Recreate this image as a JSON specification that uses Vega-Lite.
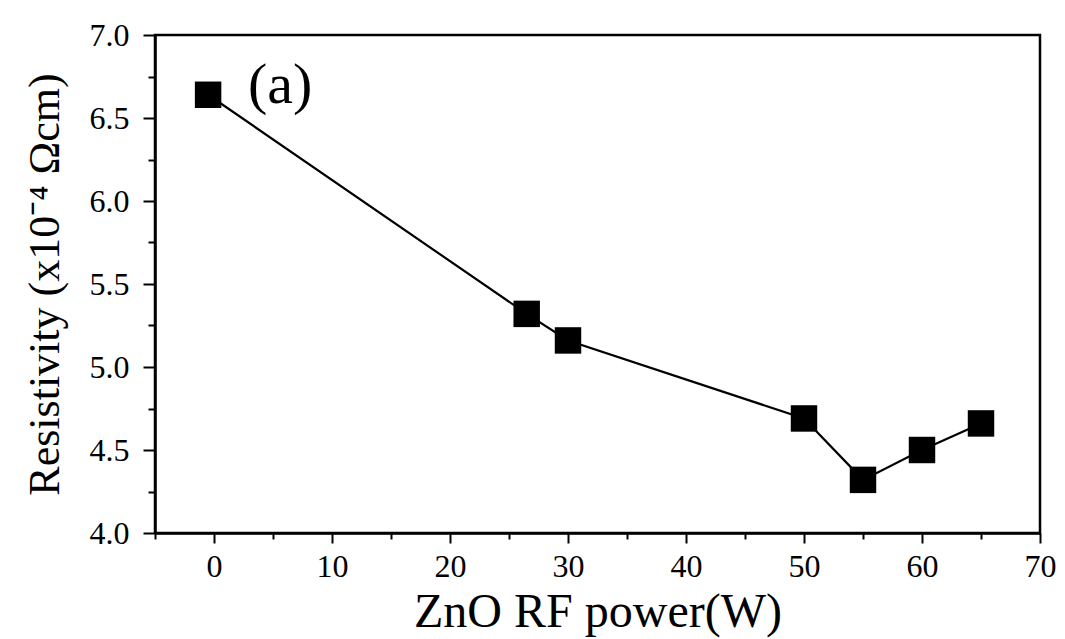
{
  "$schema": "https://vega.github.io/schema/vega-lite/v6.json",
  "autosize": {"type": "none"},
  "width": 885,
  "height": 498,
  "padding": {"left": 155, "top": 35, "right": 25, "bottom": 106},
  "background": "white",
  "config": {
    "view": {"stroke": "black", "strokeWidth": 2.5},
    "font": "Liberation Serif"
  },
  "datasets": {
    "pts": [
      {"power": -0.5, "resistivity": 6.64},
      {"power": 26.5, "resistivity": 5.32},
      {"power": 30.0, "resistivity": 5.16},
      {"power": 50.0, "resistivity": 4.69},
      {"power": 55.0, "resistivity": 4.32},
      {"power": 60.0, "resistivity": 4.50},
      {"power": 65.0, "resistivity": 4.66}
    ],
    "ann": [
      {"power": 5.6, "resistivity": 6.69, "label": "(a)"}
    ]
  },
  "encoding": {
    "x": {
      "field": "power",
      "type": "quantitative",
      "scale": {"domain": [-5, 70], "nice": false, "zero": false},
      "axis": {
        "title": "ZnO RF power(W)",
        "titleFont": "Liberation Serif",
        "titleFontSize": 48,
        "titleFontWeight": "normal",
        "titleColor": "black",
        "titlePadding": 6,
        "values": [-5, 0, 5, 10, 15, 20, 25, 30, 35, 40, 45, 50, 55, 60, 65, 70],
        "labelExpr": "datum.value % 10 === 0 ? datum.label : ''",
        "labelFont": "Liberation Serif",
        "labelFontSize": 32,
        "labelColor": "black",
        "labelPadding": 8,
        "tickSize": {"condition": {"test": "datum.value % 10 === 0", "value": 10}, "value": 6},
        "tickColor": "black",
        "tickWidth": 2,
        "domainColor": "black",
        "domainWidth": 2.5,
        "grid": false,
        "labelFlush": false,
        "labelOverlap": false
      }
    },
    "y": {
      "field": "resistivity",
      "type": "quantitative",
      "scale": {"domain": [4, 7], "nice": false, "zero": false},
      "axis": {
        "title": "Resistivity (x10⁻⁴ Ωcm)",
        "titleFont": "Liberation Serif",
        "titleFontSize": 44,
        "titleFontWeight": "normal",
        "titleColor": "black",
        "titlePadding": 22,
        "values": [4, 4.25, 4.5, 4.75, 5, 5.25, 5.5, 5.75, 6, 6.25, 6.5, 6.75, 7],
        "labelExpr": "(datum.value * 2) % 1 === 0 ? format(datum.value, '.1f') : ''",
        "labelFont": "Liberation Serif",
        "labelFontSize": 32,
        "labelColor": "black",
        "labelPadding": 14,
        "tickSize": {"condition": {"test": "(datum.value * 2) % 1 === 0", "value": 12}, "value": 7},
        "tickColor": "black",
        "tickWidth": 2,
        "domainColor": "black",
        "domainWidth": 2.5,
        "grid": false,
        "labelFlush": false,
        "labelOverlap": false
      }
    }
  },
  "layer": [
    {
      "data": {"name": "pts"},
      "mark": {"type": "line", "color": "black", "strokeWidth": 2.2}
    },
    {
      "data": {"name": "pts"},
      "mark": {"type": "point", "shape": "square", "filled": true, "color": "black", "opacity": 1, "size": 700}
    },
    {
      "data": {"name": "ann"},
      "mark": {"type": "text", "font": "Liberation Serif", "fontSize": 58, "color": "black", "align": "center", "baseline": "middle"},
      "encoding": {"text": {"field": "label"}}
    }
  ]
}
